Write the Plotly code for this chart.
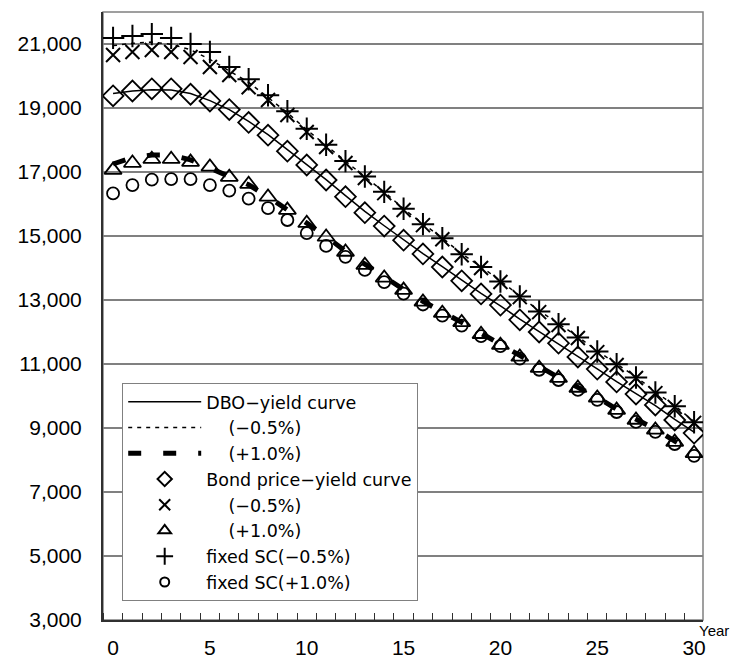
import plotly.graph_objects as go

years = list(range(0, 31))

# DBO lines
dbo_yield = [19450, 19530, 19570, 19560, 19450, 19230, 18950, 18580, 18170, 17700, 17230,
             16760, 16260, 15770, 15320, 14880, 14450, 14040, 13620, 13210, 12820,
             12400, 12010, 11630, 11230, 10850, 10450, 10070, 9700, 9270, 8870]
dbo_minus05 = [20950, 21020, 21060, 20990, 20820, 20520, 20160, 19800, 19330, 18850, 18320,
               17820, 17320, 16850, 16380, 15850, 15380, 14940, 14440, 14040, 13600,
               13130, 12660, 12260, 11850, 11410, 11010, 10600, 10130, 9700, 9200]
dbo_plus10 = [17250, 17450, 17530, 17530, 17380, 17130, 16840, 16600, 16230, 15830, 15420,
              14990, 14520, 14110, 13710, 13330, 12960, 12610, 12300, 11960, 11620,
              11240, 10900, 10580, 10270, 9960, 9590, 9270, 8960, 8590, 8250]

# Bond price markers
bond_yield = [19380, 19530, 19600, 19600, 19430, 19220, 18950, 18550, 18150, 17650, 17220,
              16750, 16230, 15730, 15310, 14870, 14440, 14030, 13600, 13190, 12840,
              12380, 12000, 11650, 11220, 10840, 10440, 10060, 9720, 9250, 8840]
bond_minus05 = [20656, 20750, 20812, 20750, 20594, 20280, 20030, 19650, 19250, 18780, 18250,
                17780, 17280, 16810, 16340, 15810, 15340, 14900, 14400, 14000, 13560,
                13090, 12620, 12220, 11810, 11370, 10970, 10560, 10090, 9660, 9160]
bond_plus10 = [17060, 17280, 17400, 17400, 17310, 17160, 16840, 16620, 16220, 15810, 15400,
               14970, 14500, 14090, 13690, 13310, 12940, 12590, 12300, 11930, 11590,
               11220, 10870, 10560, 10250, 9940, 9560, 9250, 8940, 8560, 8210]
fixed_minus05 = [21190, 21250, 21310, 21190, 21000, 20750, 20280, 19900, 19400, 18900, 18350,
                 17850, 17340, 16860, 16380, 15850, 15370, 14930, 14430, 14030, 13580,
                 13110, 12640, 12240, 11830, 11390, 10990, 10580, 10110, 9680, 9180]
fixed_plus10 = [16330, 16590, 16760, 16780, 16780, 16590, 16420, 16170, 15870, 15500, 15090,
                14690, 14350, 13940, 13560, 13200, 12860, 12510, 12200, 11870, 11560,
                11170, 10820, 10500, 10190, 9880, 9500, 9190, 8880, 8500, 8130]

names = ["DBO\u2212yield curve", "\u00a0\u00a0\u00a0\u00a0(\u22120.5%)", "\u00a0\u00a0\u00a0\u00a0(+1.0%)",
         "Bond price\u2212yield curve", "\u00a0\u00a0\u00a0\u00a0(\u22120.5%)", "\u00a0\u00a0\u00a0\u00a0(+1.0%)",
         "fixed SC(\u22120.5%)", "fixed SC(+1.0%)"]

x_ticks = [0, 5, 10, 15, 20, 25, 30]
y_ticks = list(range(3000, 22000, 2000))

line_series = [dbo_yield, dbo_minus05, dbo_plus10]
line_styles = [dict(color="black", width=1.5),
               dict(color="black", width=1.5, dash="4px,5px"),
               dict(color="black", width=5, dash="13px,22px")]

marker_series = [bond_yield, bond_minus05, bond_plus10, fixed_minus05, fixed_plus10]
marker_styles = [("diamond-open", 16, 1.8), ("x-thin-open", 14, 2), ("triangle-up-open", 15, 1.8),
                 ("cross-thin-open", 16, 2), ("circle-open", 12, 1.8)]
legend_marker_sizes = [11, 11, 11, 12, 9]

fig = go.Figure()

# Data traces (drawn on the chart)
for ys, ls in zip(line_series, line_styles):
    fig.add_trace(go.Scatter(x=years, y=ys, mode="lines", line=ls, showlegend=False))
for ys, (sym, sz, lw) in zip(marker_series, marker_styles):
    fig.add_trace(go.Scatter(x=years, y=ys, mode="markers", showlegend=False,
                             marker=dict(symbol=sym, size=sz, color="black",
                                         line=dict(color="black", width=lw))))

# Legend entries (smaller legend symbols, as in the original)
for i, ls in enumerate(line_styles):
    fig.add_trace(go.Scatter(x=[None], y=[None], mode="lines", line=ls, name=names[i],
                             legendgroup=f"g{i}"))
for j, ((sym, sz, lw), lsz) in enumerate(zip(marker_styles, legend_marker_sizes)):
    fig.add_trace(go.Scatter(x=[None], y=[None], mode="markers", name=names[3 + j],
                             legendgroup=f"g{3 + j}",
                             marker=dict(symbol=sym, size=lsz, color="black",
                                         line=dict(color="black", width=2))))

font_family = "Liberation Sans, Arial, sans-serif"

fig.update_layout(
    width=730, height=662,
    margin=dict(l=103, r=27, t=12, b=42),
    paper_bgcolor="white", plot_bgcolor="white",
    font=dict(family=font_family, color="black"),
    showlegend=True,
    legend=dict(x=0.032, y=0.39, xanchor="left", yanchor="top",
                bgcolor="white", bordercolor="#808080", borderwidth=1,
                font=dict(size=17.5, family="DejaVu Sans, sans-serif", color="black"),
                itemwidth=73, tracegroupgap=0),
    xaxis=dict(range=[-0.52, 30.46], tickvals=x_ticks, ticktext=[str(v) for v in x_ticks],
               showgrid=False, zeroline=False, ticks="", automargin=False,
               tickfont=dict(size=21, family=font_family, color="black"),
               ticklabelstandoff=8,
               showline=True, linecolor="#303030", linewidth=2,
               minor=dict(tickmode="linear", tick0=0.5, dtick=1, ticks="inside", ticklen=7,
                          tickcolor="#303030", tickwidth=1, showgrid=False)),
    yaxis=dict(range=[3000, 22000], tickvals=y_ticks, tickformat=",d", automargin=False,
               showgrid=True, gridcolor="#808080", gridwidth=1.5, zeroline=False, ticks="",
               tickfont=dict(size=21, family=font_family, color="black"),
               ticklabelstandoff=15,
               showline=True, linecolor="#303030", linewidth=2),
    shapes=[dict(type="rect", xref="paper", yref="paper", x0=0, y0=0, x1=1, y1=1,
                 line=dict(color="#808080", width=1.5), layer="below")],
    annotations=[dict(text="Year", xref="paper", yref="paper", x=0.99, y=0.0,
                      xanchor="left", yanchor="top", showarrow=False,
                      font=dict(size=15, family=font_family, color="black"))],
)

fig.write_html("out.html")
